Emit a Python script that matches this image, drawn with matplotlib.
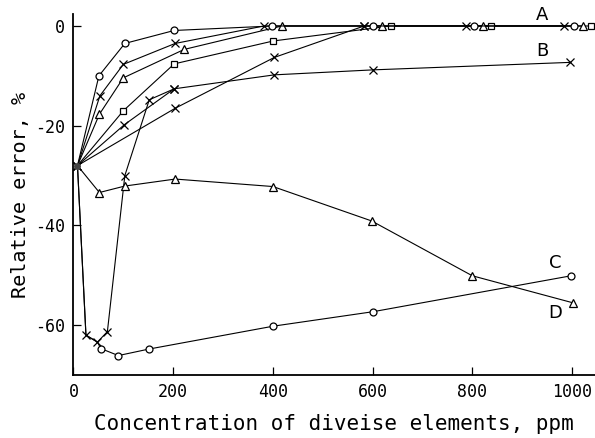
import matplotlib
matplotlib.use("Agg")
import matplotlib.pyplot as plt

# concentration of diverse element (ppm) vs relative error (%)
# curves A: recover to 0 %, B: slight loss, C / D: strong suppression
x_a_circle = [8, 51, 103, 202, 399, 600, 804, 1003]
y_a_circle = [-28, -10.0, -3.5, -0.9, 0, 0, 0, 0]

x_a_cross = [8, 53, 100, 204, 382, 583, 787, 984]
y_a_cross = [-28, -14.0, -7.7, -3.5, 0, 0, 0, 0]

x_a_tri = [8, 52, 100, 222, 418, 618, 822, 1021]
y_a_tri = [-28, -17.7, -10.4, -4.7, 0, 0, 0, 0]

x_a_square = [8, 100, 202, 401, 636, 837, 1037]
y_a_square = [-28, -17.0, -7.6, -3.0, 0, 0, 0]

x_a_cross2 = [8, 204, 403, 583]
y_a_cross2 = [-28, -16.5, -6.3, 0]

x_b_extra = [8, 102, 202]
y_b_extra = [-28, -19.8, -12.6]

x_b = [8, 25, 48, 68, 103, 152, 202, 403, 601, 996]
y_b = [-28, -62.0, -63.4, -61.3, -30.0, -14.8, -12.6, -9.8, -8.8, -7.3]

x_c = [8, 25, 48, 55, 90, 151, 401, 601, 998]
y_c = [-28, -62.0, -63.4, -64.7, -66.1, -64.8, -60.2, -57.3, -50.1]

x_d = [8, 52, 103, 204, 400, 598, 800, 1001]
y_d = [-28, -33.4, -32.1, -30.7, -32.2, -39.1, -50.1, -55.5]

curve_labels = ["A", "B", "C", "D"]
label_x = [940, 940, 966, 966]
label_y = [2.2, -5.1, -47.6, -57.6]

plt.rcParams["font.family"] = ["DejaVu Sans Mono"]
plt.rcParams["axes.unicode_minus"] = False

fig = plt.figure(figsize=(5.95, 4.38), dpi=100)
ax = fig.add_axes([0.1235, 0.1438, 0.8765, 0.8242])

line_kw = dict(color="black", lw=0.8, mfc="white", mec="black", mew=0.9)


def skip_first(xs):
    return list(range(1, len(xs)))


ax.plot(x_a_cross2, y_a_cross2, marker="x", ms=5.5, **line_kw)
ax.plot(x_b_extra, y_b_extra, marker="x", ms=5.5, **line_kw)
ax.plot(x_b, y_b, marker="x", ms=5.5, **line_kw)
ax.plot(x_c, y_c, marker="o", ms=5, markevery=[3, 4, 5, 6, 7, 8], **line_kw)
ax.plot(x_d, y_d, marker="^", ms=6, markevery=skip_first(x_d), **line_kw)
ax.plot(x_a_cross, y_a_cross, marker="x", ms=5.5, markevery=skip_first(x_a_cross), **line_kw)
ax.plot(x_a_square, y_a_square, marker="s", ms=5, markevery=skip_first(x_a_square), **line_kw)
ax.plot(x_a_tri, y_a_tri, marker="^", ms=6, markevery=skip_first(x_a_tri), **line_kw)
ax.plot(x_a_circle, y_a_circle, marker="o", ms=5, markevery=skip_first(x_a_circle), **line_kw)

# shared starting point
ax.plot([x_d[0]], [y_d[0]], marker="o", ms=4, color="#444444")

for lab, lx, ly in zip(curve_labels, label_x, label_y):
    ax.text(lx, ly, lab, fontsize=13, family="DejaVu Sans", ha="center", va="center")

ax.set_xlim(0, 1046)
ax.set_ylim(-70, 2.4)
ax.set_xticks([0, 200, 400, 600, 800, 1000])
ax.set_yticks([0, -20, -40, -60])
ax.tick_params(direction="in", length=6, width=0.9, labelsize=12, pad=6)

for s in ["top", "right"]:
    ax.spines[s].set_visible(False)
for s in ["left", "bottom"]:
    ax.spines[s].set_linewidth(1.3)

ax.set_xlabel("Concentration of diveise elements, ppm", fontsize=15, labelpad=9)
ax.set_ylabel("Relative error, %", fontsize=14.5, labelpad=4)

fig.savefig("out.png", dpi=100)
